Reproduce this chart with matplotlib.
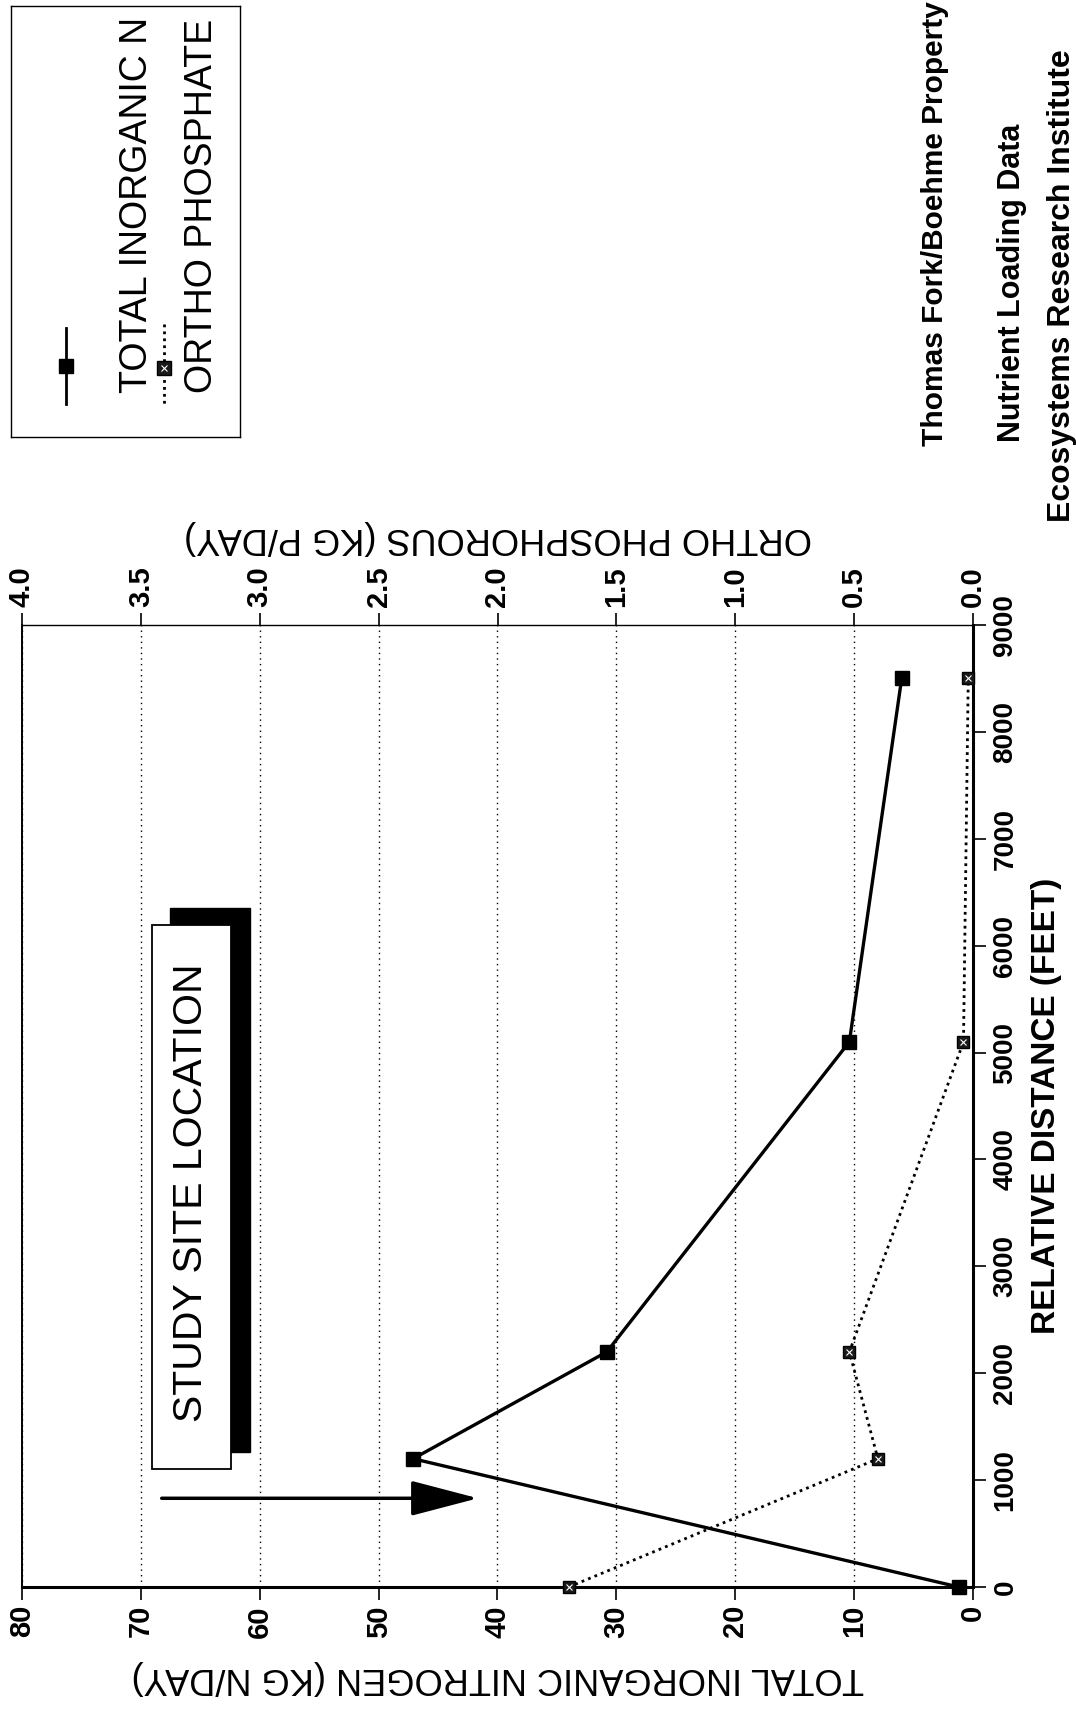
import matplotlib
matplotlib.use('Agg')
import matplotlib.pyplot as plt
from matplotlib.patches import Rectangle

# 沿程距离（英尺）与营养盐负荷
distance_ft = [0, 1200, 2200, 5100, 8500]
tin_kg_day = [1.2, 47.1, 30.8, 10.4, 6.0]
po4_kg_day = [1.70, 0.40, 0.52, 0.04, 0.02]

tin_ticks = [0, 10, 20, 30, 40, 50, 60, 70, 80]
po4_ticks = [0.0, 0.5, 1.0, 1.5, 2.0, 2.5, 3.0, 3.5, 4.0]
dist_ticks = list(range(0, 9001, 1000))

site_distance = 830

FONT = ['Liberation Sans', 'DejaVu Sans']

W, H = 1076, 1712


def fx(px):
    return px / W


def fy(px):
    # 像素从顶部算起，换成 figure 坐标
    return 1 - px / H


fig = plt.figure(figsize=(W / 100, H / 100), dpi=100)
fig.patch.set_facecolor('white')

# 整张图逆时针转了 90 度：横向是负荷，纵向是距离
ax = fig.add_axes([fx(22), fy(1587), fx(951), 962 / H])
ax.set_xlim(80, 0)
ax.set_ylim(0, 9000)

ax.plot(tin_kg_day, distance_ft, color='black', lw=2.4, marker='s', ms=9.5,
        mfc='black', mec='black', zorder=5, clip_on=False)

ax.set_xticks(tin_ticks)
ax.set_xticklabels([str(t) for t in tin_ticks], rotation=90,
                   family=FONT, fontsize=21, fontweight='bold')
ax.set_yticks(dist_ticks)
ax.yaxis.tick_right()
ax.set_yticklabels([str(t) for t in dist_ticks], rotation=90, va='center',
                   family=FONT, fontsize=20, fontweight='bold')
ax.tick_params(axis='x', direction='out', length=9, width=1.2, pad=4)
ax.tick_params(axis='y', direction='out', length=9, width=1.2, pad=5)
ax.grid(axis='x', linestyle=(0, (1, 3)), color='black', lw=1.0)
ax.grid(axis='y', visible=False)

for side, lw in [('bottom', 2.2), ('right', 2.2), ('top', 1.0), ('left', 1.4)]:
    ax.spines[side].set_linewidth(lw)
    ax.spines[side].set_color('black')

ax.set_xlabel('TOTAL INORGANIC NITROGEN (KG N/DAY)', rotation=180,
              family=FONT, fontsize=26, labelpad=16)
ax.yaxis.set_label_position('right')
ax.set_ylabel('RELATIVE DISTANCE (FEET)', rotation=90, family=FONT,
              fontsize=24, fontweight='bold', labelpad=9)

# 磷的副轴在上方
ax2 = ax.twiny()
ax2.set_xlim(4, 0)
ax2.plot(po4_kg_day, distance_ft, color='black', lw=2.0, linestyle=(0, (1, 1.5)),
         marker='s', ms=8.5, mfc='#1a1a1a', mec='black', zorder=5, clip_on=False)
ax2.plot(po4_kg_day, distance_ft, linestyle='none', marker='x', ms=4,
         mec='white', mew=0.8, zorder=6, clip_on=False)
ax2.set_xticks(po4_ticks)
ax2.set_xticklabels([f'{t:.1f}' for t in po4_ticks], rotation=90,
                    family=FONT, fontsize=21, fontweight='bold')
ax2.tick_params(axis='x', direction='out', length=9, width=1.2, pad=4)
ax2.set_xlabel('ORTHO PHOSPHOROUS (KG P/DAY)', rotation=180,
               family=FONT, fontsize=26, labelpad=14)
for s in ax2.spines.values():
    s.set_visible(False)

# 研究地点标注框
ax.add_patch(Rectangle((0.1556, 0.1406), 0.0841, 0.5653, transform=ax.transAxes,
                       facecolor='black', edgecolor='black', zorder=3))
ax.add_patch(Rectangle((0.1367, 0.1229), 0.0831, 0.5654, transform=ax.transAxes,
                       facecolor='white', edgecolor='black', lw=1.3, zorder=4))
ax.text(0.178, 0.41, 'STUDY SITE LOCATION', transform=ax.transAxes, rotation=90,
        ha='center', va='center', family=FONT, fontsize=29.5, zorder=6)
ax.annotate('', xy=(0.4795, site_distance), xytext=(0.1469, site_distance),
            xycoords=('axes fraction', 'data'), textcoords=('axes fraction', 'data'),
            arrowprops=dict(arrowstyle='-|>,head_length=2.1,head_width=0.55',
                            mutation_scale=20, lw=2.5, color='black',
                            shrinkA=0, shrinkB=0), zorder=6)

# 图例
lax = fig.add_axes([fx(11), fy(437), fx(229), 431 / H])
lax.set_xlim(0, 229)
lax.set_ylim(431, 0)
lax.set_xticks([])
lax.set_yticks([])
for s in lax.spines.values():
    s.set_linewidth(1.0)

lax.plot([55, 55], [322, 398], color='black', lw=2.0)
lax.plot([55], [360], marker='s', ms=9.5, color='black')
lax.text(126, 387, 'TOTAL INORGANIC N', rotation=90, ha='center', va='bottom',
         family=FONT, fontsize=27)
lax.plot([153, 153], [318, 398], color='black', lw=2.0, linestyle=(0, (1, 1.5)))
lax.plot([153], [362], marker='s', ms=9.5, mfc='#1a1a1a', mec='black')
lax.plot([153], [362], marker='x', ms=5, mec='white', mew=0.8)
lax.text(191, 387, 'ORTHO PHOSPHATE', rotation=90, ha='center', va='bottom',
         family=FONT, fontsize=27)

# 右侧标题
fig.text(fx(935), fy(446), 'Thomas Fork/Boehme Property', rotation=90,
         ha='center', va='bottom', family=FONT, fontweight='bold', fontsize=21.5)
fig.text(fx(1012), fy(442), 'Nutrient Loading Data', rotation=90,
         ha='center', va='bottom', family=FONT, fontweight='bold', fontsize=22)
fig.text(fx(1062), fy(522), 'Ecosystems Research Institute', rotation=90,
         ha='center', va='bottom', family=FONT, fontweight='bold', fontsize=23)

fig.savefig('out.png', dpi=100, facecolor='white')
